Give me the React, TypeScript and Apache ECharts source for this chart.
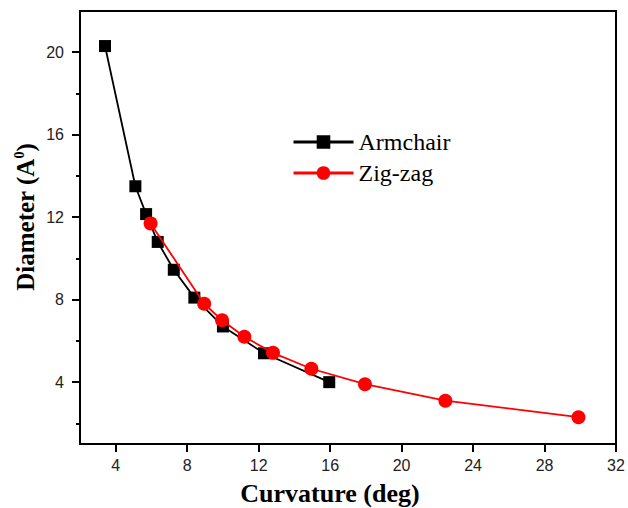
import React, { useEffect, useRef } from "react";
import * as echarts from "echarts";

const armchairX = [3.4, 5.1, 5.7, 6.35, 7.25, 8.4, 10.0, 12.3, 15.95];
const armchairY = [20.3, 13.5, 12.15, 10.8, 9.45, 8.1, 6.7, 5.4, 4.0];
const zigzagX = [5.95, 8.95, 9.95, 11.2, 12.8, 14.95, 17.95, 22.45, 29.9];
const zigzagY = [11.7, 7.8, 7.0, 6.2, 5.42, 4.65, 3.9, 3.1, 2.3];
const xTicks = [4, 8, 12, 16, 20, 24, 28, 32];
const yTicks = [4, 8, 12, 16, 20];
const yMinorTicks = [2, 6, 10, 14, 18];

export default function App() {
  const ref = useRef<HTMLDivElement>(null);
  useEffect(() => {
    if (!ref.current) return;
    document.body.style.margin = "0";
    const chart = echarts.init(ref.current, null, { renderer: "svg" });
    const pairs = (xs: number[], ys: number[]) => xs.map((x, i) => [x, ys[i]]);
    chart.setOption({
      animation: false,
      backgroundColor: "#fff",
      grid: {
        left: 80,
        top: 11,
        right: 12,
        bottom: 64,
        show: true,
        borderColor: "#000",
        borderWidth: 2,
        backgroundColor: "transparent",
      },
      legend: {
        orient: "vertical",
        left: 287,
        top: 125,
        itemWidth: 60,
        itemHeight: 17,
        itemGap: 7,
        lineStyle: { width: 3 },
        textStyle: {
          fontFamily: "Liberation Serif",
          fontSize: 24,
          lineHeight: 24,
          color: "#000",
        },
        data: ["Armchair", "Zig-zag"],
      },
      graphic: [
        {
          type: "text",
          x: 330,
          y: 493,
          style: {
            text: "Curvature (deg)",
            fontFamily: "Liberation Serif",
            fontWeight: "bold",
            fontSize: 26,
            fill: "#000",
            align: "center",
            verticalAlign: "middle",
          },
        },
        {
          type: "text",
          x: 25,
          y: 217,
          rotation: Math.PI / 2,
          style: {
            text: "{a|Diameter (A}{s|0}{a|)}",
            align: "center",
            verticalAlign: "middle",
            rich: {
              a: {
                fontFamily: "Liberation Serif",
                fontWeight: "bold",
                fontSize: 25,
                fill: "#000",
              },
              s: {
                fontFamily: "Liberation Serif",
                fontWeight: "bold",
                fontSize: 14,
                fill: "#000",
                verticalAlign: "top",
                padding: [0, 0, 12, 0],
              },
            },
          },
        },
      ],
      xAxis: {
        type: "value",
        min: 2,
        max: 32,
        splitLine: { show: false },
        axisLine: { lineStyle: { color: "#000", width: 2 } },
        axisTick: {
          customValues: xTicks,
          length: 8,
          lineStyle: { color: "#000", width: 2 },
        },
        axisLabel: {
          customValues: xTicks,
          margin: 13,
          fontFamily: "Liberation Sans",
          fontSize: 16,
          color: "#222",
        },
      },
      yAxis: [
        {
          type: "value",
          min: 1,
          max: 22,
          splitLine: { show: false },
          axisLine: { lineStyle: { color: "#000", width: 2 } },
          axisTick: {
            customValues: yTicks,
            length: 8,
            lineStyle: { color: "#000", width: 2 },
          },
          axisLabel: {
            customValues: yTicks,
            margin: 16,
            fontFamily: "Liberation Sans",
            fontSize: 16,
            color: "#222",
          },
        },
        {
          type: "value",
          min: 1,
          max: 22,
          position: "left",
          splitLine: { show: false },
          axisLine: { show: false },
          axisLabel: { show: false },
          axisTick: {
            customValues: yMinorTicks,
            length: 4,
            lineStyle: { color: "#000", width: 2 },
          },
        },
      ],
      series: [
        {
          name: "Armchair",
          type: "line",
          data: pairs(armchairX, armchairY),
          symbol: "rect",
          symbolSize: 12,
          color: "#000",
          lineStyle: { color: "#000", width: 1.8 },
          itemStyle: { color: "#000" },
          z: 2,
        },
        {
          name: "Zig-zag",
          type: "line",
          data: pairs(zigzagX, zigzagY),
          symbol: "circle",
          symbolSize: 14,
          color: "#ff0000",
          lineStyle: { color: "#ff0000", width: 1.8 },
          itemStyle: { color: "#ff0000" },
          z: 3,
        },
      ],
    });
    return () => chart.dispose();
  }, []);
  return <div ref={ref} style={{ width: 628, height: 508 }} />;
}
